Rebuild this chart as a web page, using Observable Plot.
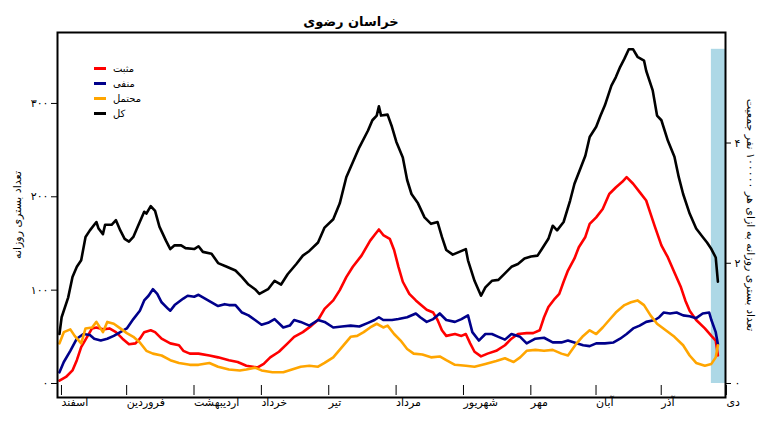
<!DOCTYPE html>
<html>
<head>
<meta charset="utf-8">
<script src="https://cdn.jsdelivr.net/npm/d3@7"></script>
<script src="https://cdn.jsdelivr.net/npm/@observablehq/plot@0.6"></script>
<style>
  body { margin: 0; background: #fff; }
  #wrap { position: relative; width: 767px; height: 431px; font-family: "DejaVu Sans", sans-serif; }
  #title { position: absolute; left: 251px; width: 200px; top: 14px; text-align: center; font-weight: bold; font-size: 13px; direction: rtl; }
  #legend { position: absolute; left: 94px; top: 61px; font-size: 10px; }
  #legend .row { display: flex; align-items: center; height: 15px; }
  #legend .sw { width: 12px; height: 3px; margin-right: 7px; }
  #chart { position: absolute; left: 0; top: 0; }
</style>
</head>
<body>
<div id="wrap">
  <div id="chart"></div>
  <div id="title"></div>
  <div id="legend"></div>
</div>
<script>
// ---- data (day index from 1 Esfand) ----
const title = "خراسان رضوی";
const monthNames = ["اسفند","فروردین","اردیبهشت","خرداد","تیر","مرداد","شهریور","مهر","آبان","آذر","دی"];
const monthStarts = [0, 30, 61, 92, 123, 154, 185, 216, 246, 276, 306];
const seriesNames = ["مثبت", "منفی", "محتمل", "کل"];
const seriesColors = ["red", "darkblue", "orange", "black"];
const leftLabel = "تعداد بستری روزانه";
const rightLabel = "تعداد بستری روزانه به ازای هر ۱۰۰۰۰۰ نفر جمعیت";
const perCapitaFactor = 64.4;   // daily count per 1 unit of the per-100k axis
const rightTicks = [0, 2, 4];
const leftTicks = [0, 100, 200, 300];
const shadedDays = [300, 306.5];

const positive = [[0,3],[3,7],[6,14],[8,25],[10,39],[13,51],[15,59],[17,60],[20,58],[23,59],[26,55],[29,48],[32,42],[35,43],[37,48],[39,55],[42,57],[44,55],[47,48],[51,43],[55,41],[57,35],[60,32],[64,32],[69,30],[73,28],[78,25],[82,23],[86,19],[89,18],[91,17],[94,21],[97,28],[101,34],[105,43],[108,50],[112,55],[116,62],[119,68],[122,80],[126,89],[129,100],[132,114],[135,125],[139,137],[143,153],[145,159],[147,165],[149,159],[152,155],[154,143],[156,125],[158,109],[161,96],[164,89],[166,85],[169,79],[172,76],[174,68],[176,57],[178,51],[182,53],[185,51],[187,53],[189,43],[191,34],[194,29],[197,32],[201,35],[205,41],[208,48],[211,53],[215,54],[218,54],[221,57],[223,71],[225,82],[228,91],[230,96],[232,109],[234,121],[237,134],[239,146],[242,157],[244,171],[247,178],[250,187],[253,203],[256,210],[259,216],[261,221],[264,214],[267,205],[270,196],[272,182],[274,168],[277,148],[280,135],[283,119],[286,103],[288,89],[290,78],[293,68],[297,59],[300,51],[302,46],[303,30]];

const negative = [[0,12],[2,23],[5,35],[8,48],[11,53],[14,52],[16,48],[19,46],[22,48],[25,51],[28,55],[31,59],[34,69],[37,78],[39,89],[41,94],[43,101],[45,96],[47,87],[50,80],[51,78],[53,84],[57,91],[59,94],[62,93],[64,95],[67,91],[70,87],[73,83],[76,85],[78,84],[81,84],[84,76],[87,73],[90,68],[93,63],[96,65],[99,69],[103,60],[106,62],[108,68],[111,66],[115,62],[119,68],[122,66],[126,60],[130,61],[134,62],[138,61],[142,65],[145,68],[147,71],[149,68],[153,68],[156,69],[160,71],[164,75],[166,71],[169,66],[172,69],[175,75],[178,68],[182,66],[185,69],[188,73],[190,55],[193,46],[196,53],[199,53],[202,50],[205,47],[208,53],[212,50],[215,43],[219,48],[223,49],[227,44],[231,44],[234,46],[238,43],[241,41],[244,40],[247,43],[251,43],[255,44],[258,48],[261,53],[264,59],[267,62],[270,66],[274,68],[276,71],[278,76],[281,75],[284,76],[287,73],[290,72],[293,70],[296,75],[299,76],[300,68],[302,55],[303,42]];

const probable = [[0,43],[2,55],[5,58],[7,51],[10,43],[12,59],[15,60],[17,66],[20,55],[22,66],[25,64],[28,59],[31,54],[34,50],[37,44],[40,35],[43,32],[47,30],[51,25],[55,22],[60,20],[64,20],[69,22],[73,18],[78,15],[83,14],[86,15],[90,17],[93,14],[98,12],[103,12],[107,15],[111,18],[115,19],[119,18],[122,22],[126,28],[130,39],[134,50],[137,51],[140,55],[143,60],[146,64],[149,60],[151,62],[154,53],[157,46],[160,37],[163,32],[167,31],[171,28],[175,29],[178,25],[182,20],[187,19],[191,18],[196,21],[201,24],[205,27],[209,23],[212,28],[215,35],[219,36],[223,35],[227,36],[231,32],[234,30],[238,43],[241,51],[244,57],[247,53],[250,60],[253,68],[256,76],[260,84],[263,87],[266,89],[269,84],[272,73],[275,64],[279,57],[283,50],[287,41],[290,30],[293,22],[297,19],[300,21],[302,28],[303,41]];

const total = [[0,53],[1,71],[4,92],[6,114],[8,125],[10,132],[12,157],[14,164],[17,173],[18,166],[20,160],[21,170],[24,170],[26,175],[28,164],[30,155],[32,152],[34,157],[36,168],[39,184],[40,182],[42,190],[44,185],[46,168],[49,153],[51,144],[53,148],[56,148],[58,145],[62,144],[64,147],[66,141],[70,139],[73,129],[77,125],[81,121],[84,114],[87,106],[90,101],[92,96],[96,101],[99,110],[102,106],[105,117],[109,128],[112,137],[115,142],[119,151],[122,167],[126,176],[129,193],[132,221],[135,237],[138,253],[142,271],[144,282],[146,287],[147,297],[148,287],[151,288],[153,275],[155,259],[158,242],[160,218],[162,203],[165,193],[168,178],[171,171],[174,173],[176,157],[178,143],[181,138],[184,141],[187,144],[188,132],[191,110],[194,94],[196,103],[199,110],[202,111],[205,118],[208,125],[211,128],[214,134],[217,136],[220,137],[222,144],[225,155],[227,169],[229,164],[232,173],[235,196],[237,214],[240,232],[242,244],[244,264],[247,275],[249,287],[251,298],[254,319],[256,328],[258,339],[260,348],[262,358],[264,358],[266,350],[269,346],[270,335],[273,314],[275,287],[277,282],[280,260],[283,243],[285,221],[287,203],[290,182],[293,166],[296,157],[298,151],[300,144],[302,135],[303,109]];

// ---- build ----
const fa = (n) => String(n).replace(/\d/g, (d) => "۰۱۲۳۴۵۶۷۸۹"[d]);
const allSeries = [positive, negative, probable, total];
const rows = allSeries.flatMap((s, k) => s.map(([day, v]) => ({day, v, name: seriesNames[k]})));
const shade = [{x1: shadedDays[0], x2: shadedDays[1], y1: 0, y2: d3.max(total, d => d[1])}];

document.getElementById("title").textContent = title;
const leg = document.getElementById("legend");
seriesNames.forEach((n, i) => {
  const r = document.createElement("div"); r.className = "row";
  const sw = document.createElement("div"); sw.className = "sw"; sw.style.background = seriesColors[i];
  const t = document.createElement("span"); t.textContent = n;
  r.appendChild(sw); r.appendChild(t); leg.appendChild(r);
});

const chart = Plot.plot({
  width: 767,
  height: 431,
  marginTop: 32,
  marginBottom: 34,
  marginLeft: 57,
  marginRight: 42,
  style: {fontFamily: "DejaVu Sans, sans-serif", fontSize: "10px", background: "white"},
  x: {domain: [-0.9, 306.5]},
  y: {domain: [-15, 376]},
  color: {domain: seriesNames, range: seriesColors},
  marks: [
    Plot.rect(shade, {x1: "x1", x2: "x2", y1: "y1", y2: "y2", fill: "lightblue"}),
    ...seriesNames.map((n) =>
      Plot.line(rows.filter(d => d.name === n), {x: "day", y: "v", stroke: "name", strokeWidth: 2.6, strokeLinejoin: "round"})
    ),
    Plot.axisY({anchor: "left", ticks: leftTicks, tickFormat: fa, tickSize: 6, tickPadding: 3, fontSize: 11, label: null}),
    Plot.axisY({anchor: "right", ticks: rightTicks.map(v => v * perCapitaFactor), tickFormat: v => fa(Math.round(v / perCapitaFactor)), tickSize: 5, tickPadding: 4, fontSize: 11, label: null}),
    Plot.axisX({ticks: monthStarts, tickFormat: d => monthNames[monthStarts.indexOf(d)], tickSize: 10, tickPadding: 3, textAnchor: "start", dx: 2, dy: -12, fontSize: 11, label: null}),
    Plot.text([leftLabel], {frameAnchor: "left", text: d => d, rotate: -90, textAnchor: "middle", dx: -40, fontSize: 11}),
    Plot.text([rightLabel], {frameAnchor: "right", text: d => d, rotate: 90, textAnchor: "middle", dx: 25, fontSize: 11}),
    Plot.frame({stroke: "black", strokeWidth: 2})
  ]
});
document.getElementById("chart").appendChild(chart);
</script>
</body>
</html>
